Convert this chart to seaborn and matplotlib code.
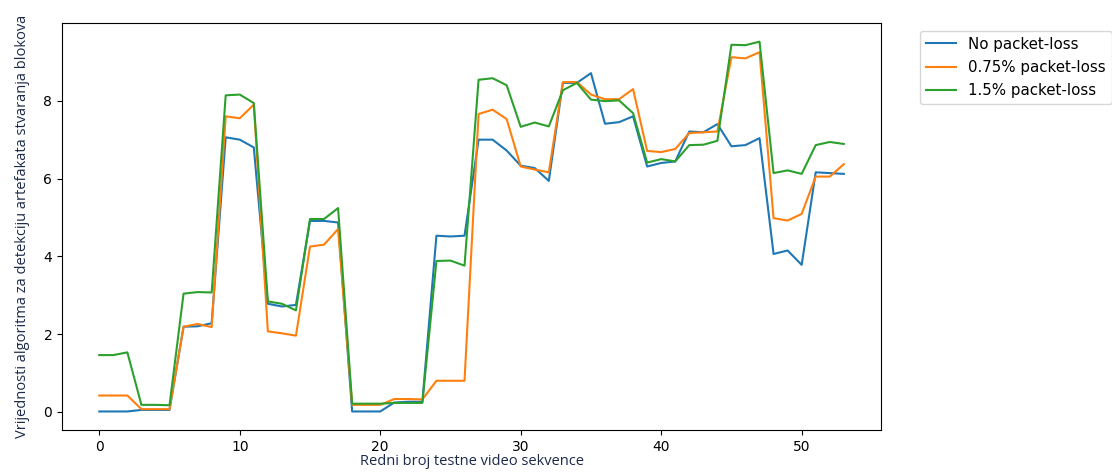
import matplotlib
matplotlib.use("Agg")
import matplotlib.pyplot as plt
import seaborn as sns
import pandas as pd
import numpy as np

sequence = list(range(54))

no_loss = [0.01, 0.01, 0.01, 0.05, 0.05, 0.05, 2.19, 2.2, 2.28, 7.06, 7.0, 6.8,
           2.78, 2.71, 2.75, 4.91, 4.91, 4.87, 0.01, 0.01, 0.01, 0.24, 0.26, 0.26,
           4.53, 4.51, 4.53, 7.0, 7.0, 6.72, 6.33, 6.27, 5.94, 8.46, 8.46, 8.71,
           7.41, 7.45, 7.6, 6.31, 6.4, 6.44, 7.21, 7.19, 7.4, 6.83, 6.86, 7.04,
           4.06, 4.15, 3.78, 6.16, 6.14, 6.12]
loss_075 = [0.42, 0.42, 0.42, 0.07, 0.07, 0.07, 2.19, 2.26, 2.18, 7.6, 7.55, 7.9,
            2.07, 2.02, 1.96, 4.25, 4.3, 4.7, 0.18, 0.18, 0.18, 0.33, 0.33, 0.32,
            0.8, 0.8, 0.8, 7.66, 7.77, 7.53, 6.31, 6.23, 6.16, 8.48, 8.48, 8.16,
            8.04, 8.04, 8.3, 6.71, 6.68, 6.76, 7.17, 7.19, 7.21, 9.12, 9.09, 9.25,
            4.98, 4.92, 5.09, 6.05, 6.05, 6.37]
loss_15 = [1.46, 1.46, 1.53, 0.18, 0.18, 0.17, 3.04, 3.08, 3.07, 8.14, 8.16, 7.94,
           2.84, 2.78, 2.61, 4.96, 4.96, 5.24, 0.21, 0.21, 0.21, 0.23, 0.23, 0.23,
           3.88, 3.89, 3.76, 8.54, 8.58, 8.4, 7.33, 7.44, 7.34, 8.27, 8.46, 8.03,
           7.99, 8.01, 7.68, 6.41, 6.5, 6.44, 6.86, 6.87, 6.97, 9.44, 9.43, 9.52,
           6.14, 6.21, 6.12, 6.86, 6.94, 6.89]

series_names = ["No packet-loss", "0.75% packet-loss", "1.5% packet-loss"]

df = pd.DataFrame({
    "x": sequence * 3,
    "y": no_loss + loss_075 + loss_15,
    "series": [series_names[0]] * 54 + [series_names[1]] * 54 + [series_names[2]] * 54,
})

fig = plt.figure(figsize=(11.12, 4.73), dpi=100)
ax = fig.add_axes([0.0558, 0.091, 0.7365, 0.860])

palette = ["#1f77b4", "#ff7f0e", "#2ca02c"]
sns.lineplot(data=df, x="x", y="y", hue="series", palette=palette, ax=ax,
             linewidth=1.5, hue_order=series_names)

ax.set_xticks([0, 10, 20, 30, 40, 50])
ax.set_yticks([0, 2, 4, 6, 8])
ax.tick_params(labelsize=10)

lab_color = "#1b2a4a"
ax.set_xlabel("Redni broj testne video sekvence", family=["Open Sans", "DejaVu Sans"],
              fontsize=10.5, color=lab_color, labelpad=0)
ax.set_ylabel("Vrijednosti algoritma za detekciju artefakata stvaranja blokova",
              family=["Open Sans", "DejaVu Sans"], fontsize=10.5, color=lab_color, labelpad=10)

ax.legend(title=None, loc="upper left", bbox_to_anchor=(1.039, 1), fontsize=10.8,
          labelspacing=0.55)

fig.savefig("out.png", dpi=100)
